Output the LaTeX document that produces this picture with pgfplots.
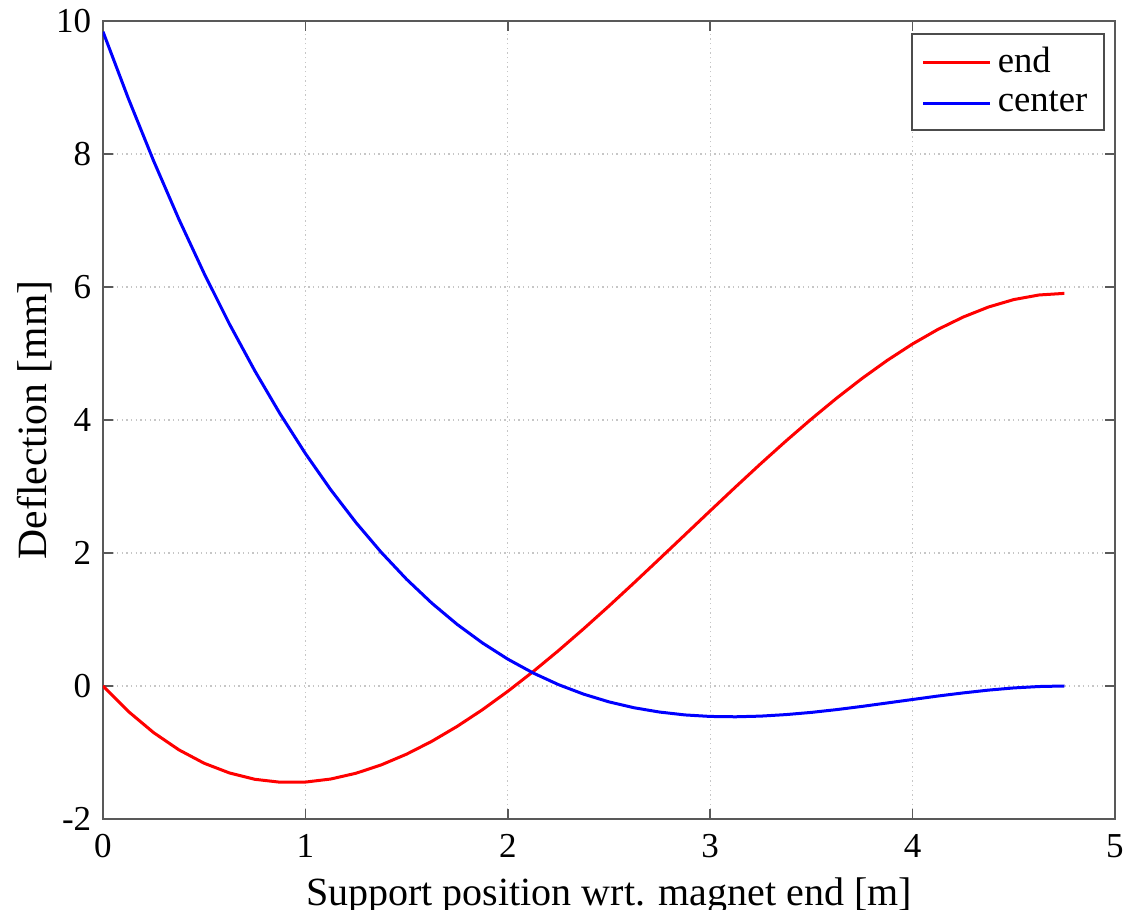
\documentclass[border=0pt]{standalone}
\usepackage{fontspec}
\setmainfont{Liberation Serif}
\usepackage{pgfplots}
\pgfplotsset{compat=1.18}
\usetikzlibrary{calc}

\begin{document}
\begin{tikzpicture}
\begin{axis}[
  width=303.6pt, height=239.4pt, scale only axis,
  xmin=0, xmax=5, ymin=-2, ymax=10,
  xtick={0,1,2,3,4,5}, ytick={-2,0,2,4,6,8,10},
  tick align=inside, tick pos=both,
  major tick length=3pt,
  grid=major,
  major grid style={densely dotted, gray!45, line width=0.4pt},
  axis line style={gray!70!black, line width=0.5pt},
  tick style={gray!70!black, line width=0.5pt},
  font=\fontsize{10.5}{12}\selectfont,
  /pgf/number format/assume math mode=true,
  xlabel={Support position wrt. magnet end [m]},
  ylabel={Deflection [mm]},
  xlabel style={font=\fontsize{12}{14}\selectfont, yshift=1pt},
  ylabel style={font=\fontsize{12.5}{14}\selectfont, yshift=-5.5pt},
  xticklabel style={yshift=-1pt},
  legend style={at={(0.990,0.985)}, anchor=north east, draw=gray!60!black,
    line width=0.5pt, inner xsep=3pt, inner ysep=2pt, row sep=0pt,
    font=\fontsize{11}{13.5}\selectfont},
  legend cell align=left,
  legend image code/.code={\draw[#1, line width=0.9pt] (0cm,0cm) -- (0.7cm,0cm);},
]
% end deflection
\addplot[red, line width=0.9pt, line join=round] coordinates {
(0,0) (0.125,-0.382) (0.25,-0.701) (0.375,-0.960) (0.5,-1.162) (0.625,-1.308)
(0.75,-1.403) (0.875,-1.447) (1.0,-1.445) (1.125,-1.399) (1.25,-1.312)
(1.375,-1.186) (1.5,-1.025) (1.625,-0.831) (1.75,-0.607) (1.875,-0.356)
(2.0,-0.080) (2.125,0.216) (2.25,0.531) (2.375,0.861) (2.5,1.203)
(2.625,1.555) (2.75,1.913) (2.875,2.273) (3.0,2.634) (3.125,2.992)
(3.25,3.344) (3.375,3.686) (3.5,4.015) (3.625,4.329) (3.75,4.624)
(3.875,4.897) (4.0,5.144) (4.125,5.362) (4.25,5.548) (4.375,5.699)
(4.5,5.811) (4.625,5.880) (4.75,5.904)};
\addlegendentry{end}
% center deflection
\addplot[blue, line width=0.9pt, line join=round] coordinates {
(0,9.840) (0.125,8.837) (0.25,7.897) (0.375,7.019) (0.5,6.202) (0.625,5.442)
(0.75,4.740) (0.875,4.092) (1.0,3.496) (1.125,2.952) (1.25,2.457)
(1.375,2.009) (1.5,1.605) (1.625,1.245) (1.75,0.926) (1.875,0.647)
(2.0,0.404) (2.125,0.196) (2.25,0.021) (2.375,-0.123) (2.5,-0.239)
(2.625,-0.328) (2.75,-0.392) (2.875,-0.435) (3.0,-0.458) (3.125,-0.463)
(3.25,-0.453) (3.375,-0.430) (3.5,-0.397) (3.625,-0.355) (3.75,-0.307)
(3.875,-0.255) (4.0,-0.203) (4.125,-0.151) (4.25,-0.104) (4.375,-0.062)
(4.5,-0.029) (4.625,-0.008) (4.75,0)};
\addlegendentry{center}
\end{axis}
\pgfresetboundingbox
\path[use as bounding box] ($(current axis.south west)+(-30.9pt,-27.3pt)$) rectangle ($(current axis.south west)+(306.9pt,245.7pt)$);
\end{tikzpicture}
\end{document}
